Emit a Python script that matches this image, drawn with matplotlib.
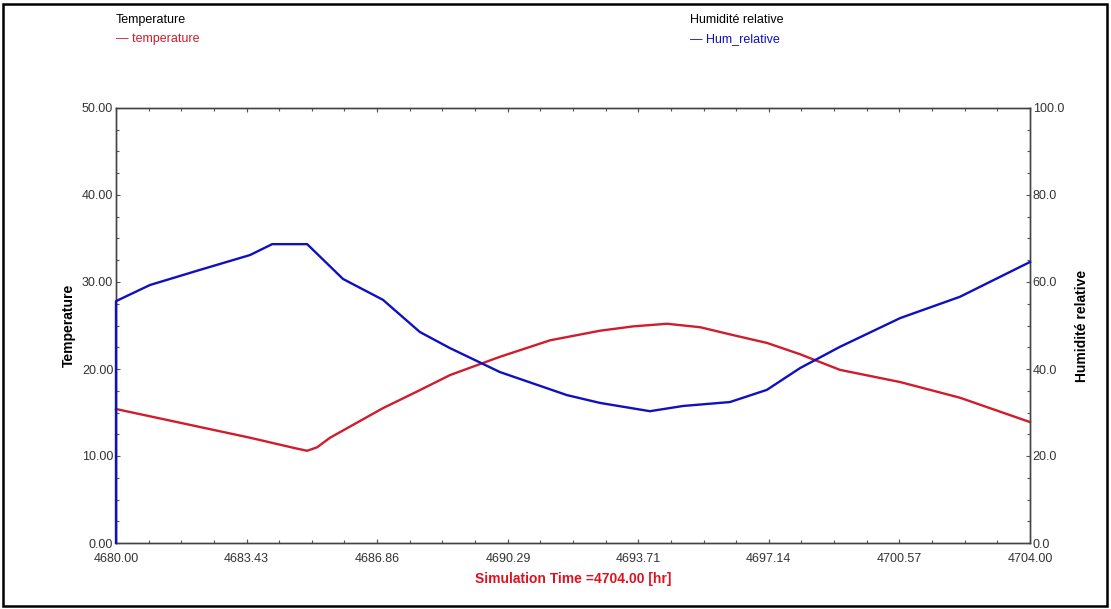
import matplotlib
matplotlib.use("Agg")
import matplotlib.pyplot as plt
from matplotlib.patches import Rectangle
from matplotlib.ticker import MultipleLocator, FixedLocator, FormatStrFormatter

plt.rcParams['font.family'] = ['Liberation Sans', 'DejaVu Sans']

# Simulation output (hours, degC, %)
time_temp = [4680.00, 4683.52, 4684.70, 4685.02, 4685.28, 4685.62, 4686.07, 4687.01,
             4687.90, 4688.77, 4690.08, 4691.40, 4692.71, 4693.58, 4694.47, 4695.34,
             4696.20, 4697.09, 4697.96, 4699.01, 4700.59, 4702.16, 4704.00]
temperature = [15.4, 12.1, 10.9, 10.6, 11.0, 12.1, 13.2, 15.5,
               17.4, 19.3, 21.4, 23.3, 24.4, 24.9, 25.2, 24.8,
               23.9, 23.0, 21.7, 19.9, 18.5, 16.7, 13.9]

time_hum = [4680.00, 4680.00, 4680.89, 4682.21, 4683.52, 4684.10, 4685.02, 4685.96,
            4687.01, 4687.98, 4688.77, 4690.08, 4691.84, 4692.71, 4694.02, 4694.89,
            4696.12, 4697.09, 4697.96, 4699.01, 4700.59, 4702.16, 4704.00]
hum_relative = [0.0, 55.6, 59.3, 62.8, 66.2, 68.7, 68.7, 60.7,
                55.9, 48.5, 44.8, 39.3, 34.0, 32.2, 30.3, 31.5,
                32.4, 35.2, 40.2, 45.1, 51.7, 56.6, 64.6]

x_ticks = [4680.00, 4683.43, 4686.86, 4690.29, 4693.71, 4697.14, 4700.57, 4704.00]
x_start, x_end = 4680.0, 4704.0

RED = '#d01c2c'
BLUE = '#1010c0'
TXT = '#333333'

fig = plt.figure(figsize=(11.11, 6.09), dpi=100)
ax = fig.add_axes([116 / 1111, 1 - 543 / 609, (1030 - 116) / 1111, (543 - 108) / 609])
ax2 = ax.twinx()

ax.plot(time_temp, temperature, color=RED, lw=1.7, zorder=3, clip_on=False)
ax2.plot(time_hum, hum_relative, color=BLUE, lw=1.7, zorder=3, clip_on=False)

ax.set_xlim(x_start, x_end)
ax.set_ylim(0, 50)
ax2.set_ylim(0, 100)

ax.xaxis.set_major_locator(FixedLocator(x_ticks))
ax.set_xticklabels([f"{v:.2f}" for v in x_ticks])
step = (x_end - x_start) / 7 / 4
ax.xaxis.set_minor_locator(FixedLocator([x_start + i * step for i in range(29)]))
ax.yaxis.set_major_locator(MultipleLocator(10))
ax.yaxis.set_minor_locator(MultipleLocator(2.5))
ax.yaxis.set_major_formatter(FormatStrFormatter('%.2f'))
ax2.yaxis.set_major_locator(MultipleLocator(20))
ax2.yaxis.set_minor_locator(MultipleLocator(5))
ax2.yaxis.set_major_formatter(FormatStrFormatter('%.1f'))

for a in (ax, ax2):
    for s in a.spines.values():
        s.set_color('#444444')
        s.set_linewidth(1.0)
ax.tick_params(axis='y', which='major', direction='in', length=3, width=0.8,
               colors='#555555', labelcolor=TXT, labelsize=9, pad=2)
ax.tick_params(axis='x', which='major', direction='in', length=3, width=0.8,
               colors='#555555', labelcolor=TXT, labelsize=9, pad=7, top=True)
ax.tick_params(axis='both', which='minor', direction='in', length=2.5, width=0.8,
               colors='#555555', top=True)
ax2.tick_params(axis='y', which='major', direction='in', length=3, width=0.8,
                colors='#555555', labelcolor=TXT, labelsize=9, pad=2)
ax2.tick_params(axis='y', which='minor', direction='in', length=2.5, width=0.8,
                colors='#555555')

ax.set_ylabel('Temperature', fontsize=10, fontweight='bold', color='black', labelpad=4)
ax2.set_ylabel('Humidité relative', fontsize=10, fontweight='bold', color='black',
               rotation=90, labelpad=8)
ax.set_xlabel('Simulation Time =4704.00 [hr]', fontsize=10, fontweight='bold',
              color='#e0101e', labelpad=5)

# Series legends above the plot
fig.text(116 / 1111, 1 - 20 / 609, 'Temperature', fontsize=9, color='black', va='center')
fig.text(116 / 1111, 1 - 39 / 609, '\u2014 temperature', fontsize=9, color=RED, va='center')
fig.text(690 / 1111, 1 - 20 / 609, 'Humidité relative', fontsize=9, color='black', va='center')
fig.text(690 / 1111, 1 - 39 / 609, '\u2014 Hum_relative', fontsize=9, color=BLUE, va='center')

# Outer frame
fig.patches.append(Rectangle((3 / 1111, 3 / 609), 1 - 7 / 1111, 1 - 7 / 609,
                             transform=fig.transFigure, fill=False,
                             edgecolor='black', linewidth=1.8))

fig.savefig('out.png', dpi=100)
